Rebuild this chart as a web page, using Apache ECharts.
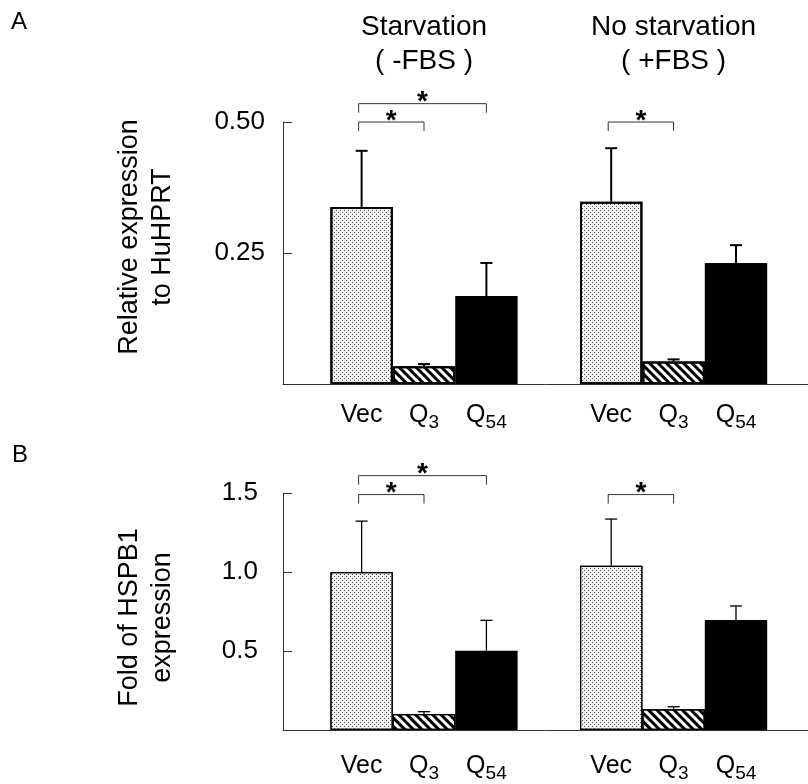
<!DOCTYPE html>
<html><head><meta charset="utf-8">
<script src="https://cdn.jsdelivr.net/npm/echarts@6/dist/echarts.min.js"></script>
<style>html,body{margin:0;padding:0;background:#fff}#c{width:808px;height:784px}</style>
</head><body><div id="c"></div>
<script>
// ---------- data ----------
const panelLetters = ['A', 'B'];
const groupTitles = ['Starvation\n( -FBS )', 'No starvation\n( +FBS )'];
const catMain = ['Vec', 'Q', 'Q'];
const catSub = ['', '3', '54'];

const aYName = 'Relative expression\nto HuHPRT';
const aTickMax = 0.5;
const aTickStep = 0.25;
const aStarvMean = [0.338, 0.034, 0.168];
const aStarvErr  = [0.107, 0.004, 0.063];
const aFedMean   = [0.348, 0.043, 0.231];
const aFedErr    = [0.102, 0.004, 0.034];
// [group, fromCat, toCat, level, mark]
const aBrackets = [[0, 0, 1, 0.50, '*'], [0, 0, 2, 0.535, '*'], [1, 0, 1, 0.50, '*']];

const bYName = 'Fold of HSPB1\nexpression';
const bTickMax = 1.5;
const bTickStep = 0.5;
const bStarvMean = [1.00, 0.101, 0.502];
const bStarvErr  = [0.322, 0.015, 0.192];
const bFedMean   = [1.04, 0.131, 0.696];
const bFedErr    = [0.295, 0.016, 0.089];
const bBrackets = [[0, 0, 1, 1.49, '*'], [0, 0, 2, 1.61, '*'], [1, 0, 1, 1.49, '*']];

// ---------- layout / style ----------
const FONT = "'Liberation Sans', Arial, Helvetica, sans-serif";
const slotsPerGroup = 4;            // 3 bars + 1 empty gap slot
const slotIndex = (g, c) => 1 + g * slotsPerGroup + c;
const SLOT_PX = 62.4;               // width of one bar in pixels
const X_MIN = -0.26, X_MAX = 8.154; // x-range of the plot in slot units (layout)

const panels = [
  { yName: aYName, max: aTickMax, step: aTickStep, dec: 2, means: [aStarvMean, aFedMean], errs: [aStarvErr, aFedErr], brackets: aBrackets,
    top: 122, bottom: 400, labelMargin: 18, catMargin: 13, nameGap: 104, namePad: [0, 0, 0, 32], border: 2, errW: 2 },
  { yName: bYName, max: bTickMax, step: bTickStep, dec: 1, means: [bStarvMean, bFedMean], errs: [bStarvErr, bFedErr], brackets: bBrackets,
    top: 493, bottom: 54, labelMargin: 25, catMargin: 18, nameGap: 104, namePad: [0, 12, 0, 0], border: 1.2, errW: 1.3 }
];

const barStyles = (bw) => [
  { color: '#f1f1f1', borderColor: '#000', borderWidth: bw,
    decal: { symbol: 'rect', symbolSize: 1, color: '#555', dashArrayX: [[1, 3], [0, 2, 1, 1]], dashArrayY: [1, 1], rotation: 0 } },
  { color: '#fff', borderColor: '#000', borderWidth: bw,
    decal: { symbol: 'rect', symbolSize: 1, color: '#000', dashArrayX: [1, 0], dashArrayY: [3, 3], rotation: Math.PI / 4 } },
  { color: '#000', borderColor: '#000', borderWidth: bw }
];

const labelSlots = [];
groupTitles.forEach((t, g) => catMain.forEach((m, c) => labelSlots.push(slotIndex(g, c))));
function catLabel(value) {
  const k = Math.round(value) - 1;
  if (k < 0) return '';
  const c = k % slotsPerGroup;
  if (c >= catMain.length) return '';
  return catSub[c] ? '{m|' + catMain[c] + '}{s|' + catSub[c] + '}' : '{m|' + catMain[c] + '}';
}

const grids = [], xAxes = [], yAxes = [], series = [];
const axisColor = '#333';
panels.forEach((p, pi) => {
  grids.push({ left: 283, right: 0, top: p.top, bottom: p.bottom, containLabel: false });
  xAxes.push({ gridIndex: pi, type: 'value', min: X_MIN, max: X_MAX,
    axisLine: { show: true, onZero: false, lineStyle: { color: axisColor, width: 1 } },
    axisTick: { show: false }, splitLine: { show: false },
    axisLabel: { show: true, customValues: labelSlots, margin: p.catMargin, color: '#000', fontFamily: FONT,
      formatter: (v) => catLabel(v),
      rich: { m: { fontSize: 25, fontFamily: FONT, color: '#000', lineHeight: 36 },
              s: { fontSize: 19, fontFamily: FONT, color: '#000', padding: [16, 0, 0, 0] } } } });
  yAxes.push({ gridIndex: pi, type: 'value', min: 0, max: p.max, interval: p.step,
    axisLine: { show: true, onZero: false, lineStyle: { color: axisColor, width: 1 } },
    axisTick: { show: true, inside: true, length: 9, lineStyle: { color: axisColor, width: 1 } },
    splitLine: { show: false },
    axisLabel: { color: '#000', fontSize: 26, fontFamily: FONT, margin: p.labelMargin,
      formatter: v => (v === 0 ? '' : v.toFixed(p.dec)) },
    name: p.yName, nameLocation: 'middle', nameGap: p.nameGap, nameRotate: 90,
    nameTextStyle: { color: '#000', fontSize: 27, fontFamily: FONT, lineHeight: 33, padding: p.namePad } });

  const styles = barStyles(p.border);
  const barData = [];
  const errData = [];
  p.means.forEach((arr, g) => {
    arr.forEach((v, c) => {
      const s = slotIndex(g, c);
      barData.push({ value: [s, v], itemStyle: styles[c] });
      errData.push([s, v, v + p.errs[g][c]]);
    });
  });
  series.push({ type: 'bar', xAxisIndex: pi, yAxisIndex: pi, data: barData, barWidth: SLOT_PX,
    animation: false, silent: true });
  const errW = p.errW;
  series.push({ type: 'custom', xAxisIndex: pi, yAxisIndex: pi, data: errData, encode: { x: 0, y: [1, 2] },
    clip: false, animation: false, silent: true, z: 5,
    renderItem: (params, api) => {
      const p0 = api.coord([api.value(0), api.value(1)]);
      const p1 = api.coord([api.value(0), api.value(2)]);
      const cap = 6;
      return { type: 'group', children: [
        { type: 'line', shape: { x1: p0[0], y1: p0[1], x2: p1[0], y2: p1[1] }, style: { stroke: '#000', lineWidth: errW } },
        { type: 'line', shape: { x1: p1[0] - cap, y1: p1[1], x2: p1[0] + cap, y2: p1[1] }, style: { stroke: '#000', lineWidth: errW } }
      ] };
    } });
  const brData = p.brackets.map(b => [slotIndex(b[0], b[1]), slotIndex(b[0], b[2]), b[3]]);
  const brMarks = p.brackets.map(b => b[4]);
  series.push({ type: 'custom', xAxisIndex: pi, yAxisIndex: pi, data: brData, encode: { x: [0, 1], y: 2 },
    clip: false, animation: false, silent: true, z: 6,
    renderItem: (params, api) => {
      const a = api.coord([api.value(0), api.value(2)]);
      const b = api.coord([api.value(1), api.value(2)]);
      const y = a[1], drop = 9, xa = a[0] - 3;
      return { type: 'group', children: [
        { type: 'polyline', shape: { points: [[xa, y + drop], [xa, y], [b[0], y], [b[0], y + drop]] },
          style: { stroke: '#333', lineWidth: 1, fill: null } },
        { type: 'text', x: (xa + b[0]) / 2, y: y - 1,
          style: { text: brMarks[params.dataIndex], fill: '#000', font: 'bold 28px ' + FONT, textAlign: 'center', textVerticalAlign: 'middle' } }
      ] };
    } });
});

const chart = echarts.init(document.getElementById('c'), null, { renderer: 'canvas' });
chart.setOption({
  animation: false,
  backgroundColor: '#fff',
  grid: grids, xAxis: xAxes, yAxis: yAxes, series: series
});

// titles and panel letters
const graphics = [];
groupTitles.forEach((t, g) => {
  const x = chart.convertToPixel({ xAxisIndex: 0 }, slotIndex(g, 1));
  graphics.push({ type: 'text', x: x, y: 10, silent: true,
    style: { text: t, fill: '#000', font: '28px ' + FONT, textAlign: 'center', lineHeight: 34 } });
});
graphics.push({ type: 'text', x: 11, y: 10, style: { text: panelLetters[0], fill: '#000', font: '24px ' + FONT } });
graphics.push({ type: 'text', x: 12, y: 443, style: { text: panelLetters[1], fill: '#000', font: '24px ' + FONT } });
chart.setOption({ graphic: graphics });
</script></body></html>
